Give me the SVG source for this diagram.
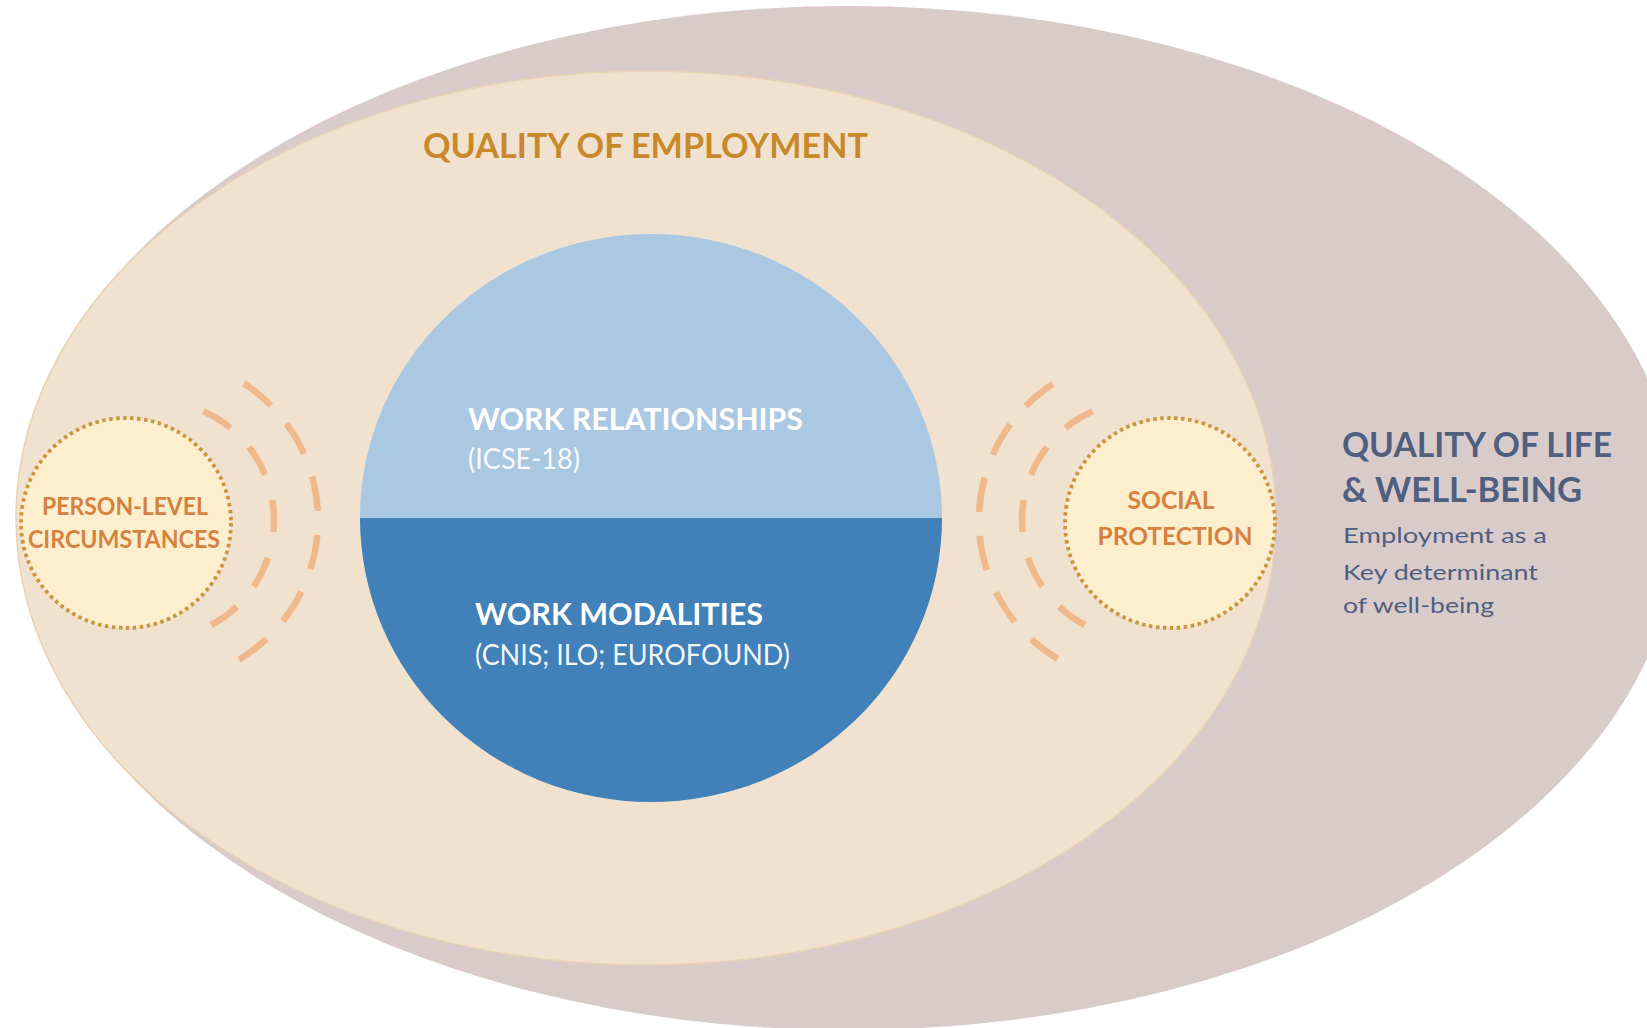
<svg xmlns="http://www.w3.org/2000/svg" width="1647" height="1028" viewBox="0 0 1647 1028">
  <style>
    text { font-family: Lato, "Liberation Sans", sans-serif; }
    .b { font-weight: 700; }
    .r { font-weight: 400; }
    .qoe { fill: #c8892b; font-size: 35px; }
    .white { fill: #ffffff; }
    .core-h { font-size: 31px; }
    .core-s { font-size: 29px; fill-opacity: 0.95; }
    .small-h { fill: #d5813f; font-size: 24px; }
    .qol-h { fill: #4f5f80; font-size: 35px; }
    .qol-s { fill: #4f5f80; font-size: 21px; }
    .dotted { fill: #fdefcd; stroke: #c9963f; stroke-width: 3.8; stroke-dasharray: 3.5 3.52; }
    .ripple { fill: none; stroke: #efb88d; stroke-width: 6.5; stroke-linecap: butt; }
    .ripple-in { stroke-dasharray: 32 26.45; }
    .ripple-out { stroke-dasharray: 35 24; }
  </style>

  <!-- outermost field: quality of life -->
  <g id="quality-of-life">
    <ellipse cx="848" cy="518" rx="831" ry="512" fill="#dacbcb"/>
    <text class="b qol-h" x="1342" y="457" textLength="270" lengthAdjust="spacingAndGlyphs">QUALITY OF LIFE</text>
    <text class="b qol-h" x="1342" y="502" textLength="240" lengthAdjust="spacingAndGlyphs">&amp; WELL-BEING</text>
    <text class="r qol-s" x="1343" y="543" textLength="204" lengthAdjust="spacingAndGlyphs">Employment as a</text>
    <text class="r qol-s" x="1343" y="580" textLength="195" lengthAdjust="spacingAndGlyphs">Key determinant</text>
    <text class="r qol-s" x="1343" y="613" textLength="151" lengthAdjust="spacingAndGlyphs">of well-being</text>
  </g>

  <!-- middle field: quality of employment -->
  <g id="quality-of-employment">
    <ellipse cx="646" cy="518" rx="630" ry="447" fill="#f0e2cf" stroke="#e8d2b2" stroke-width="1.5"/>
    <text class="b qoe" x="423" y="158" textLength="445" lengthAdjust="spacingAndGlyphs">QUALITY OF EMPLOYMENT</text>
  </g>

  <!-- core: relationships over modalities -->
  <g id="work-core">
    <path d="M360,518 A291,284 0 0 1 942,518 Z" fill="#abc8e3"/>
    <path d="M360,518 A291,284 0 0 0 942,518 Z" fill="#4280b9"/>
    <text class="b white core-h" x="468" y="430" textLength="335" lengthAdjust="spacingAndGlyphs">WORK RELATIONSHIPS</text>
    <text class="r white core-s" x="468" y="469" textLength="112" lengthAdjust="spacingAndGlyphs">(ICSE-18)</text>
    <text class="b white core-h" x="475" y="625" textLength="288" lengthAdjust="spacingAndGlyphs">WORK MODALITIES</text>
    <text class="r white core-s" x="475" y="665" textLength="315" lengthAdjust="spacingAndGlyphs">(CNIS; ILO; EUROFOUND)</text>
  </g>

  <!-- left satellite -->
  <g id="person-level">
    <circle class="dotted" cx="126" cy="523" r="105"/>
    <text class="b small-h" x="125" y="515" text-anchor="middle" textLength="166" lengthAdjust="spacingAndGlyphs">PERSON-LEVEL</text>
    <text class="b small-h" x="124" y="548" text-anchor="middle" textLength="192" lengthAdjust="spacingAndGlyphs">CIRCUMSTANCES</text>
  </g>

  <!-- right satellite -->
  <g id="social-protection">
    <circle class="dotted" cx="1170" cy="523" r="105"/>
    <text class="b small-h" x="1171" y="509" text-anchor="middle" textLength="87" lengthAdjust="spacingAndGlyphs">SOCIAL</text>
    <text class="b small-h" x="1175" y="545" text-anchor="middle" textLength="155" lengthAdjust="spacingAndGlyphs">PROTECTION</text>
  </g>

  <!-- dashed ripples linking the satellites to the core -->
  <g id="connectors">
    <path class="ripple ripple-in" d="M203.4,411.3 A119,119 0 0 1 210.9,625.1"/>
    <path class="ripple ripple-out" d="M243.8,383.3 A163,163 0 0 1 239,659.7"/>
    <path class="ripple ripple-in" d="M1092.6,411.3 A119,119 0 0 0 1085.1,625.1"/>
    <path class="ripple ripple-out" d="M1052.8,384.1 A162,162 0 0 0 1057.6,658.9"/>
  </g>
</svg>
